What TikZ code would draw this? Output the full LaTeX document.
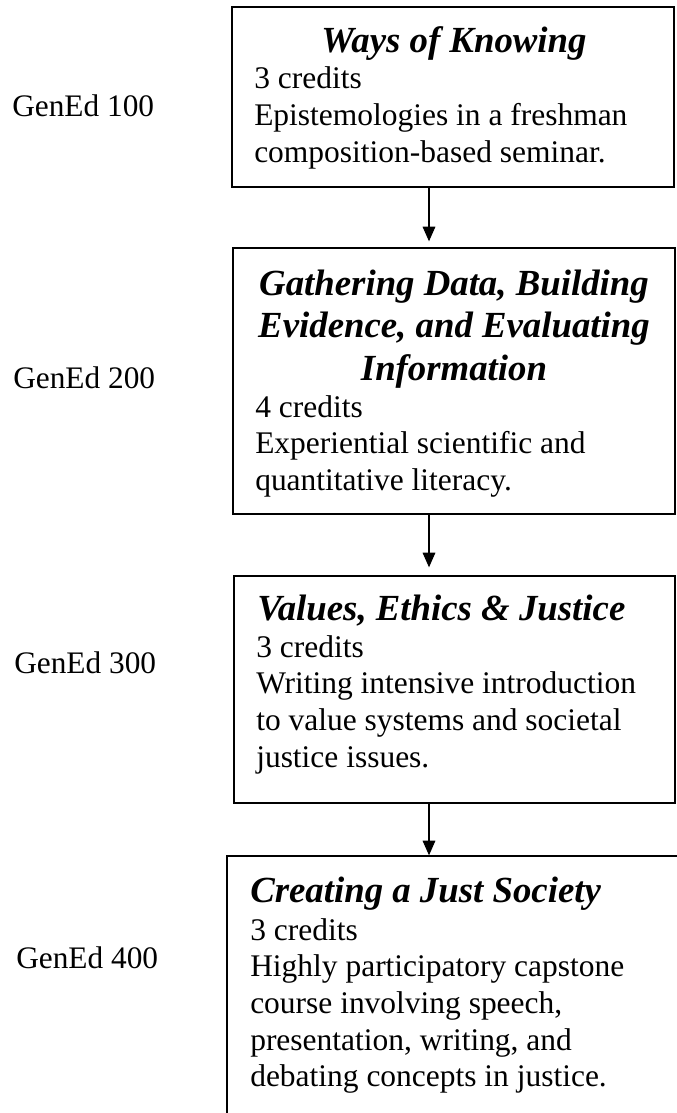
\documentclass[tikz,border=0pt]{standalone}
\usepackage{fontspec}
\setmainfont{Liberation Serif}
\usetikzlibrary{arrows.meta}
\newcommand\MyLines[2]{\vtop{\baselineskip=#1\lineskiplimit=-100pt\lineskip=0pt #2}}
\begin{document}
\begin{tikzpicture}[x=0.75pt,y=-0.75pt,
  box/.style={draw, line width=1.1pt, inner sep=0pt, outer sep=0pt, anchor=north west},
  body/.style={font=\fontsize{23.6}{27.75}\selectfont, inner sep=0pt, anchor=base west},
  ttl/.style={font=\fontsize{27.6}{32}\selectfont\bfseries\itshape, inner sep=0pt},
  lvl/.style={font=\fontsize{23.5}{27.75}\selectfont, inner sep=0pt, anchor=base west},
  arr/.style={-{Triangle[length=11pt,width=9.5pt]}, line width=0.9pt}]
\useasboundingbox (0,0) rectangle (677,1113);
\clip (0,0) rectangle (677,1113);
\fill[white] (0,0) rectangle (677,1113);

% boxes
\node[box, minimum width=331.5pt, minimum height=135pt] (b1) at (232,7) {};
\node[box, minimum width=331.5pt, minimum height=199.5pt] (b2) at (233,248) {};
\node[box, minimum width=330.75pt, minimum height=170.25pt] (b3) at (234,576) {};
\node[box, minimum width=354.75pt, minimum height=205.5pt] (b4) at (227,856) {};

% level labels
\node[lvl] (l1) at (12,117) {GenEd 100};
\node[lvl] (l2) at (13,388) {GenEd 200};
\node[lvl] (l3) at (14,673) {GenEd 300};
\node[lvl] (l4) at (16,968) {GenEd 400};

% box 1
\node[ttl, anchor=base] (t1) at (454,53) {Ways of Knowing};
\node[body] (d1) at (254,89) {\MyLines{27.75pt}{\hbox{3 credits}\hbox{Epistemologies in a freshman}\hbox{composition-based seminar.}}};

% box 2
\node[ttl, anchor=base] (t2) at (454,295) {\MyLines{31.9pt}{\hbox to 0pt{\hss Gathering Data, Building\hss}\hbox to 0pt{\hss Evidence, and Evaluating\hss}\hbox to 0pt{\hss Information\hss}}};
\node[body] (d2) at (255,417) {\MyLines{27.5pt}{\hbox{4 credits}\hbox{Experiential scientific and}\hbox{quantitative literacy.}}};

% box 3
\node[ttl, anchor=base west] (t3) at (257,620) {Values, Ethics \& Justice};
\node[body] (d3) at (256,657) {\MyLines{27.5pt}{\hbox{3 credits}\hbox{Writing intensive introduction}\hbox{to value systems and societal}\hbox{justice issues.}}};

% box 4
\node[ttl, anchor=base west] (t4) at (250,902) {Creating a Just Society};
\node[body] (d4) at (250,940) {\MyLines{27.5pt}{\hbox{3 credits}\hbox{Highly participatory capstone}\hbox{course involving speech,}\hbox{presentation, writing, and}\hbox{debating concepts in justice.}}};

% connectors
\coordinate (ax) at (429,0);
\draw[arr] (b1.south -| ax) -- ([yshift=5pt]b2.north -| ax);
\draw[arr] (b2.south -| ax) -- ([yshift=6.5pt]b3.north -| ax);
\draw[arr] (b3.south -| ax) -- ([yshift=0.5pt]b4.north -| ax);
\end{tikzpicture}
\end{document}
